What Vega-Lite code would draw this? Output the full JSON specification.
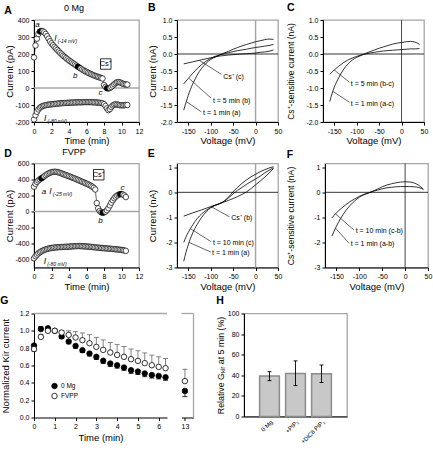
{
"$schema":"https://vega.github.io/schema/vega-lite/v6.json",
"padding":{"left":0,"top":1,"right":0,"bottom":0},
"config":{
 "font":"Liberation Sans",
 "view":{"stroke":"#a6a6a6","strokeWidth":1.3},
 "axis":{"grid":false,"domainColor":"black","domainWidth":1,"tickColor":"black","tickWidth":1,"tickSize":3,"labelFontSize":7,"labelColor":"black","titleFontSize":9.5,"titleFontWeight":"normal","titleColor":"black","labelPadding":2,"titlePadding":2,"labelFlush":false,"labelOverlap":false},
 "axisX":{"titlePadding":1.5},
 "title":{"fontSize":10.5,"fontWeight":"bold","anchor":"start","frame":"bounds","offset":3,"color":"black"},
 "text":{"fontSize":7,"color":"black"}
},
"datasets":{
 "A":[
{"t":0,"I":180,"series":"hi"},{"t":0.17,"I":250,"series":"hi"},{"t":0.33,"I":290,"series":"hi"},{"t":0.5,"I":318,"series":"hi"},{"t":0.67,"I":332,"series":"hi","sweep":"a"},{"t":0.83,"I":336,"series":"hi","sweep":"a"},{"t":1,"I":334,"series":"hi"},{"t":1.17,"I":328,"series":"hi"},{"t":1.33,"I":318,"series":"hi"},{"t":1.5,"I":305,"series":"hi"},{"t":1.67,"I":290,"series":"hi"},{"t":1.83,"I":275,"series":"hi"},{"t":2,"I":263,"series":"hi"},{"t":2.17,"I":252,"series":"hi"},{"t":2.33,"I":242,"series":"hi"},{"t":2.5,"I":233,"series":"hi"},{"t":2.67,"I":224,"series":"hi"},{"t":2.83,"I":215,"series":"hi"},{"t":3,"I":206,"series":"hi"},{"t":3.17,"I":198,"series":"hi"},{"t":3.33,"I":190,"series":"hi"},{"t":3.5,"I":183,"series":"hi"},{"t":3.67,"I":176,"series":"hi"},{"t":3.83,"I":169,"series":"hi"},{"t":4,"I":162,"series":"hi"},{"t":4.17,"I":156,"series":"hi"},{"t":4.33,"I":150,"series":"hi"},{"t":4.5,"I":144,"series":"hi"},{"t":4.67,"I":138,"series":"hi"},{"t":4.83,"I":132,"series":"hi"},{"t":5,"I":126,"series":"hi","sweep":"b"},{"t":5.17,"I":120,"series":"hi","sweep":"b"},{"t":5.33,"I":115,"series":"hi"},{"t":5.5,"I":109,"series":"hi"},{"t":5.67,"I":104,"series":"hi"},{"t":5.83,"I":99,"series":"hi"},{"t":6,"I":95,"series":"hi"},{"t":6.17,"I":90,"series":"hi"},{"t":6.33,"I":86,"series":"hi"},{"t":6.5,"I":82,"series":"hi"},{"t":6.67,"I":78,"series":"hi"},{"t":6.83,"I":74,"series":"hi"},{"t":7,"I":71,"series":"hi"},{"t":7.17,"I":68,"series":"hi"},{"t":7.33,"I":65,"series":"hi"},{"t":7.5,"I":62,"series":"hi"},{"t":7.67,"I":59,"series":"hi"},{"t":7.83,"I":56,"series":"hi"},{"t":8,"I":18,"series":"hi"},{"t":8.17,"I":6,"series":"hi"},{"t":8.33,"I":-1,"series":"hi","sweep":"c"},{"t":8.5,"I":-3,"series":"hi","sweep":"c"},{"t":8.67,"I":0,"series":"hi"},{"t":8.83,"I":6,"series":"hi"},{"t":9,"I":14,"series":"hi"},{"t":9.17,"I":22,"series":"hi"},{"t":9.33,"I":29,"series":"hi"},{"t":9.5,"I":34,"series":"hi"},{"t":9.67,"I":35,"series":"hi"},{"t":9.83,"I":33,"series":"hi"},{"t":10,"I":29,"series":"hi"},{"t":10.17,"I":25,"series":"hi"},{"t":10.33,"I":22,"series":"hi"},{"t":10.5,"I":21,"series":"hi"},{"t":10.67,"I":20,"series":"hi"},
{"t":0,"I":-185,"series":"lo"},{"t":0.17,"I":-160,"series":"lo"},{"t":0.33,"I":-140,"series":"lo"},{"t":0.5,"I":-126,"series":"lo"},{"t":0.67,"I":-116,"series":"lo"},{"t":0.83,"I":-110,"series":"lo"},{"t":1,"I":-106,"series":"lo"},{"t":1.17,"I":-103,"series":"lo"},{"t":1.33,"I":-101,"series":"lo"},{"t":1.5,"I":-99,"series":"lo"},{"t":1.67,"I":-98,"series":"lo"},{"t":1.83,"I":-97,"series":"lo"},{"t":2,"I":-96,"series":"lo"},{"t":2.17,"I":-95,"series":"lo"},{"t":2.33,"I":-94,"series":"lo"},{"t":2.5,"I":-93,"series":"lo"},{"t":2.67,"I":-92,"series":"lo"},{"t":2.83,"I":-91,"series":"lo"},{"t":3,"I":-90,"series":"lo"},{"t":3.17,"I":-89,"series":"lo"},{"t":3.33,"I":-89,"series":"lo"},{"t":3.5,"I":-88,"series":"lo"},{"t":3.67,"I":-88,"series":"lo"},{"t":3.83,"I":-87,"series":"lo"},{"t":4,"I":-87,"series":"lo"},{"t":4.17,"I":-86,"series":"lo"},{"t":4.33,"I":-86,"series":"lo"},{"t":4.5,"I":-85,"series":"lo"},{"t":4.67,"I":-85,"series":"lo"},{"t":4.83,"I":-85,"series":"lo"},{"t":5,"I":-84,"series":"lo"},{"t":5.17,"I":-84,"series":"lo"},{"t":5.33,"I":-84,"series":"lo"},{"t":5.5,"I":-84,"series":"lo"},{"t":5.67,"I":-83,"series":"lo"},{"t":5.83,"I":-83,"series":"lo"},{"t":6,"I":-83,"series":"lo"},{"t":6.17,"I":-83,"series":"lo"},{"t":6.33,"I":-83,"series":"lo"},{"t":6.5,"I":-83,"series":"lo"},{"t":6.67,"I":-84,"series":"lo"},{"t":6.83,"I":-84,"series":"lo"},{"t":7,"I":-85,"series":"lo"},{"t":7.17,"I":-85,"series":"lo"},{"t":7.33,"I":-86,"series":"lo"},{"t":7.5,"I":-87,"series":"lo"},{"t":7.67,"I":-88,"series":"lo"},{"t":7.83,"I":-90,"series":"lo"},{"t":8,"I":-95,"series":"lo"},{"t":8.17,"I":-106,"series":"lo"},{"t":8.33,"I":-120,"series":"lo"},{"t":8.5,"I":-130,"series":"lo"},{"t":8.67,"I":-124,"series":"lo"},{"t":8.83,"I":-112,"series":"lo"},{"t":9,"I":-103,"series":"lo"},{"t":9.17,"I":-98,"series":"lo"},{"t":9.33,"I":-96,"series":"lo"},{"t":9.5,"I":-97,"series":"lo"},{"t":9.67,"I":-99,"series":"lo"},{"t":9.83,"I":-101,"series":"lo"},{"t":10,"I":-102,"series":"lo"},{"t":10.17,"I":-102,"series":"lo"},{"t":10.33,"I":-101,"series":"lo"},{"t":10.5,"I":-100,"series":"lo"},{"t":10.67,"I":-100,"series":"lo"}
 ],
 "D":[
{"t":0,"I":310,"series":"hi"},{"t":0.17,"I":345,"series":"hi"},{"t":0.33,"I":370,"series":"hi"},{"t":0.5,"I":388,"series":"hi"},{"t":0.67,"I":402,"series":"hi"},{"t":0.83,"I":414,"series":"hi","sweep":"a"},{"t":1,"I":426,"series":"hi","sweep":"a"},{"t":1.17,"I":440,"series":"hi"},{"t":1.33,"I":454,"series":"hi"},{"t":1.5,"I":466,"series":"hi"},{"t":1.67,"I":477,"series":"hi"},{"t":1.83,"I":485,"series":"hi"},{"t":2,"I":491,"series":"hi"},{"t":2.17,"I":495,"series":"hi"},{"t":2.33,"I":497,"series":"hi"},{"t":2.5,"I":496,"series":"hi"},{"t":2.67,"I":493,"series":"hi"},{"t":2.83,"I":488,"series":"hi"},{"t":3,"I":482,"series":"hi"},{"t":3.17,"I":475,"series":"hi"},{"t":3.33,"I":468,"series":"hi"},{"t":3.5,"I":461,"series":"hi"},{"t":3.67,"I":454,"series":"hi"},{"t":3.83,"I":447,"series":"hi"},{"t":4,"I":440,"series":"hi"},{"t":4.17,"I":433,"series":"hi"},{"t":4.33,"I":426,"series":"hi"},{"t":4.5,"I":419,"series":"hi"},{"t":4.67,"I":412,"series":"hi"},{"t":4.83,"I":404,"series":"hi"},{"t":5,"I":396,"series":"hi"},{"t":5.17,"I":388,"series":"hi"},{"t":5.33,"I":380,"series":"hi"},{"t":5.5,"I":372,"series":"hi"},{"t":5.67,"I":364,"series":"hi"},{"t":5.83,"I":356,"series":"hi"},{"t":6,"I":348,"series":"hi"},{"t":6.17,"I":340,"series":"hi"},{"t":6.33,"I":331,"series":"hi"},{"t":6.5,"I":321,"series":"hi"},{"t":6.67,"I":310,"series":"hi"},{"t":6.83,"I":296,"series":"hi"},{"t":7,"I":275,"series":"hi"},{"t":7.17,"I":105,"series":"hi"},{"t":7.33,"I":40,"series":"hi"},{"t":7.5,"I":6,"series":"hi"},{"t":7.67,"I":-10,"series":"hi"},{"t":7.83,"I":-15,"series":"hi","sweep":"b"},{"t":8,"I":-12,"series":"hi","sweep":"b"},{"t":8.17,"I":-2,"series":"hi"},{"t":8.33,"I":16,"series":"hi"},{"t":8.5,"I":42,"series":"hi"},{"t":8.67,"I":76,"series":"hi"},{"t":8.83,"I":110,"series":"hi"},{"t":9,"I":140,"series":"hi"},{"t":9.17,"I":165,"series":"hi"},{"t":9.33,"I":185,"series":"hi"},{"t":9.5,"I":200,"series":"hi"},{"t":9.67,"I":210,"series":"hi"},{"t":9.83,"I":216,"series":"hi","sweep":"c"},{"t":10,"I":218,"series":"hi","sweep":"c"},{"t":10.17,"I":212,"series":"hi"},{"t":10.33,"I":200,"series":"hi"},{"t":10.5,"I":180,"series":"hi"},
{"t":0,"I":-585,"series":"lo"},{"t":0.17,"I":-560,"series":"lo"},{"t":0.33,"I":-540,"series":"lo"},{"t":0.5,"I":-523,"series":"lo"},{"t":0.67,"I":-509,"series":"lo"},{"t":0.83,"I":-498,"series":"lo"},{"t":1,"I":-489,"series":"lo"},{"t":1.17,"I":-481,"series":"lo"},{"t":1.33,"I":-474,"series":"lo"},{"t":1.5,"I":-468,"series":"lo"},{"t":1.67,"I":-463,"series":"lo"},{"t":1.83,"I":-459,"series":"lo"},{"t":2,"I":-456,"series":"lo"},{"t":2.17,"I":-453,"series":"lo"},{"t":2.33,"I":-451,"series":"lo"},{"t":2.5,"I":-449,"series":"lo"},{"t":2.67,"I":-447,"series":"lo"},{"t":2.83,"I":-446,"series":"lo"},{"t":3,"I":-445,"series":"lo"},{"t":3.17,"I":-444,"series":"lo"},{"t":3.33,"I":-443,"series":"lo"},{"t":3.5,"I":-442,"series":"lo"},{"t":3.67,"I":-441,"series":"lo"},{"t":3.83,"I":-440,"series":"lo"},{"t":4,"I":-439,"series":"lo"},{"t":4.17,"I":-438,"series":"lo"},{"t":4.33,"I":-436,"series":"lo"},{"t":4.5,"I":-435,"series":"lo"},{"t":4.67,"I":-434,"series":"lo"},{"t":4.83,"I":-433,"series":"lo"},{"t":5,"I":-432,"series":"lo"},{"t":5.17,"I":-432,"series":"lo"},{"t":5.33,"I":-433,"series":"lo"},{"t":5.5,"I":-434,"series":"lo"},{"t":5.67,"I":-435,"series":"lo"},{"t":5.83,"I":-436,"series":"lo"},{"t":6,"I":-437,"series":"lo"},{"t":6.17,"I":-439,"series":"lo"},{"t":6.33,"I":-440,"series":"lo"},{"t":6.5,"I":-442,"series":"lo"},{"t":6.67,"I":-444,"series":"lo"},{"t":6.83,"I":-446,"series":"lo"},{"t":7,"I":-448,"series":"lo"},{"t":7.17,"I":-450,"series":"lo"},{"t":7.33,"I":-452,"series":"lo"},{"t":7.5,"I":-454,"series":"lo"},{"t":7.67,"I":-456,"series":"lo"},{"t":7.83,"I":-458,"series":"lo"},{"t":8,"I":-459,"series":"lo"},{"t":8.17,"I":-461,"series":"lo"},{"t":8.33,"I":-462,"series":"lo"},{"t":8.5,"I":-463,"series":"lo"},{"t":8.67,"I":-465,"series":"lo"},{"t":8.83,"I":-466,"series":"lo"},{"t":9,"I":-468,"series":"lo"},{"t":9.17,"I":-470,"series":"lo"},{"t":9.33,"I":-472,"series":"lo"},{"t":9.5,"I":-474,"series":"lo"},{"t":9.67,"I":-476,"series":"lo"},{"t":9.83,"I":-478,"series":"lo"},{"t":10,"I":-480,"series":"lo"},{"t":10.17,"I":-483,"series":"lo"},{"t":10.33,"I":-487,"series":"lo"},{"t":10.5,"I":-492,"series":"lo"}
 ],
 "B":[
{"V":-160,"I":-1.65,"trace":"a"},{"V":-155,"I":-1.43,"trace":"a"},{"V":-150,"I":-1.22,"trace":"a"},{"V":-140,"I":-0.88,"trace":"a"},{"V":-130,"I":-0.62,"trace":"a"},{"V":-120,"I":-0.42,"trace":"a"},{"V":-110,"I":-0.27,"trace":"a"},{"V":-100,"I":-0.16,"trace":"a"},{"V":-90,"I":-0.09,"trace":"a"},{"V":-80,"I":-0.03,"trace":"a"},{"V":-70,"I":0.03,"trace":"a"},{"V":-60,"I":0.08,"trace":"a"},{"V":-50,"I":0.14,"trace":"a"},{"V":-40,"I":0.19,"trace":"a"},{"V":-30,"I":0.24,"trace":"a"},{"V":-20,"I":0.28,"trace":"a"},{"V":-10,"I":0.32,"trace":"a"},{"V":0,"I":0.36,"trace":"a"},{"V":10,"I":0.39,"trace":"a"},{"V":20,"I":0.42,"trace":"a"},{"V":30,"I":0.44,"trace":"a"},{"V":40,"I":0.43,"trace":"a"},
{"V":-160,"I":-0.88,"trace":"b"},{"V":-150,"I":-0.72,"trace":"b"},{"V":-140,"I":-0.57,"trace":"b"},{"V":-130,"I":-0.43,"trace":"b"},{"V":-120,"I":-0.31,"trace":"b"},{"V":-110,"I":-0.21,"trace":"b"},{"V":-100,"I":-0.13,"trace":"b"},{"V":-90,"I":-0.07,"trace":"b"},{"V":-80,"I":-0.03,"trace":"b"},{"V":-70,"I":0.01,"trace":"b"},{"V":-60,"I":0.04,"trace":"b"},{"V":-50,"I":0.07,"trace":"b"},{"V":-40,"I":0.1,"trace":"b"},{"V":-30,"I":0.12,"trace":"b"},{"V":-20,"I":0.14,"trace":"b"},{"V":-10,"I":0.17,"trace":"b"},{"V":0,"I":0.19,"trace":"b"},{"V":10,"I":0.21,"trace":"b"},{"V":20,"I":0.23,"trace":"b"},{"V":30,"I":0.25,"trace":"b"},{"V":40,"I":0.28,"trace":"b"},
{"V":-160,"I":-0.29,"trace":"c"},{"V":-140,"I":-0.23,"trace":"c"},{"V":-120,"I":-0.17,"trace":"c"},{"V":-100,"I":-0.11,"trace":"c"},{"V":-80,"I":-0.06,"trace":"c"},{"V":-60,"I":-0.03,"trace":"c"},{"V":-40,"I":-0.01,"trace":"c"},{"V":-20,"I":0.01,"trace":"c"},{"V":0,"I":0.03,"trace":"c"},{"V":10,"I":0.05,"trace":"c"},{"V":20,"I":0.06,"trace":"c"},{"V":30,"I":0.08,"trace":"c"},{"V":40,"I":0.12,"trace":"c"}
 ],
 "C":[
{"V":-160,"I":-1.4,"trace":"a-c"},{"V":-155,"I":-1.17,"trace":"a-c"},{"V":-150,"I":-0.98,"trace":"a-c"},{"V":-140,"I":-0.7,"trace":"a-c"},{"V":-130,"I":-0.47,"trace":"a-c"},{"V":-120,"I":-0.3,"trace":"a-c"},{"V":-110,"I":-0.18,"trace":"a-c"},{"V":-100,"I":-0.1,"trace":"a-c"},{"V":-90,"I":-0.04,"trace":"a-c"},{"V":-80,"I":0.02,"trace":"a-c"},{"V":-70,"I":0.07,"trace":"a-c"},{"V":-60,"I":0.12,"trace":"a-c"},{"V":-50,"I":0.17,"trace":"a-c"},{"V":-40,"I":0.21,"trace":"a-c"},{"V":-30,"I":0.25,"trace":"a-c"},{"V":-20,"I":0.29,"trace":"a-c"},{"V":-10,"I":0.32,"trace":"a-c"},{"V":0,"I":0.34,"trace":"a-c"},{"V":10,"I":0.36,"trace":"a-c"},{"V":20,"I":0.37,"trace":"a-c"},{"V":30,"I":0.35,"trace":"a-c"},{"V":40,"I":0.28,"trace":"a-c"},
{"V":-160,"I":-0.6,"trace":"b-c"},{"V":-150,"I":-0.47,"trace":"b-c"},{"V":-140,"I":-0.36,"trace":"b-c"},{"V":-130,"I":-0.26,"trace":"b-c"},{"V":-120,"I":-0.18,"trace":"b-c"},{"V":-110,"I":-0.12,"trace":"b-c"},{"V":-100,"I":-0.07,"trace":"b-c"},{"V":-90,"I":-0.03,"trace":"b-c"},{"V":-80,"I":0,"trace":"b-c"},{"V":-70,"I":0.03,"trace":"b-c"},{"V":-60,"I":0.05,"trace":"b-c"},{"V":-50,"I":0.07,"trace":"b-c"},{"V":-40,"I":0.09,"trace":"b-c"},{"V":-30,"I":0.1,"trace":"b-c"},{"V":-20,"I":0.11,"trace":"b-c"},{"V":-10,"I":0.12,"trace":"b-c"},{"V":0,"I":0.13,"trace":"b-c"},{"V":10,"I":0.14,"trace":"b-c"},{"V":20,"I":0.15,"trace":"b-c"},{"V":30,"I":0.15,"trace":"b-c"},{"V":40,"I":0.16,"trace":"b-c"}
 ],
 "E":[
{"V":-160,"I":-2.75,"trace":"a"},{"V":-155,"I":-2.4,"trace":"a"},{"V":-150,"I":-2.1,"trace":"a"},{"V":-140,"I":-1.62,"trace":"a"},{"V":-130,"I":-1.28,"trace":"a"},{"V":-120,"I":-1.0,"trace":"a"},{"V":-110,"I":-0.78,"trace":"a"},{"V":-100,"I":-0.62,"trace":"a"},{"V":-90,"I":-0.52,"trace":"a"},{"V":-80,"I":-0.45,"trace":"a"},{"V":-70,"I":-0.35,"trace":"a"},{"V":-60,"I":-0.18,"trace":"a"},{"V":-50,"I":0.02,"trace":"a"},{"V":-40,"I":0.2,"trace":"a"},{"V":-30,"I":0.36,"trace":"a"},{"V":-20,"I":0.5,"trace":"a"},{"V":-10,"I":0.62,"trace":"a"},{"V":0,"I":0.72,"trace":"a"},{"V":10,"I":0.82,"trace":"a"},{"V":20,"I":0.9,"trace":"a"},{"V":30,"I":0.97,"trace":"a"},{"V":40,"I":1.02,"trace":"a"},
{"V":-160,"I":-2.0,"trace":"c"},{"V":-155,"I":-1.78,"trace":"c"},{"V":-150,"I":-1.6,"trace":"c"},{"V":-140,"I":-1.3,"trace":"c"},{"V":-130,"I":-1.05,"trace":"c"},{"V":-120,"I":-0.86,"trace":"c"},{"V":-110,"I":-0.72,"trace":"c"},{"V":-100,"I":-0.6,"trace":"c"},{"V":-90,"I":-0.52,"trace":"c"},{"V":-80,"I":-0.45,"trace":"c"},{"V":-70,"I":-0.36,"trace":"c"},{"V":-60,"I":-0.22,"trace":"c"},{"V":-50,"I":-0.06,"trace":"c"},{"V":-40,"I":0.08,"trace":"c"},{"V":-30,"I":0.2,"trace":"c"},{"V":-20,"I":0.32,"trace":"c"},{"V":-10,"I":0.43,"trace":"c"},{"V":0,"I":0.53,"trace":"c"},{"V":10,"I":0.64,"trace":"c"},{"V":20,"I":0.77,"trace":"c"},{"V":30,"I":0.88,"trace":"c"},{"V":40,"I":0.98,"trace":"c"},
{"V":-160,"I":-0.95,"trace":"b"},{"V":-140,"I":-0.82,"trace":"b"},{"V":-120,"I":-0.7,"trace":"b"},{"V":-100,"I":-0.57,"trace":"b"},{"V":-80,"I":-0.45,"trace":"b"},{"V":-60,"I":-0.32,"trace":"b"},{"V":-40,"I":-0.17,"trace":"b"},{"V":-20,"I":0.02,"trace":"b"},{"V":-10,"I":0.15,"trace":"b"},{"V":0,"I":0.3,"trace":"b"},{"V":10,"I":0.44,"trace":"b"},{"V":20,"I":0.6,"trace":"b"},{"V":30,"I":0.77,"trace":"b"},{"V":40,"I":0.95,"trace":"b"}
 ],
 "F":[
{"V":-160,"I":-1.75,"trace":"a-b"},{"V":-150,"I":-1.35,"trace":"a-b"},{"V":-140,"I":-1.02,"trace":"a-b"},{"V":-130,"I":-0.74,"trace":"a-b"},{"V":-120,"I":-0.52,"trace":"a-b"},{"V":-110,"I":-0.34,"trace":"a-b"},{"V":-100,"I":-0.2,"trace":"a-b"},{"V":-90,"I":-0.1,"trace":"a-b"},{"V":-80,"I":-0.03,"trace":"a-b"},{"V":-70,"I":0.05,"trace":"a-b"},{"V":-60,"I":0.13,"trace":"a-b"},{"V":-50,"I":0.22,"trace":"a-b"},{"V":-40,"I":0.29,"trace":"a-b"},{"V":-30,"I":0.34,"trace":"a-b"},{"V":-20,"I":0.38,"trace":"a-b"},{"V":-10,"I":0.41,"trace":"a-b"},{"V":0,"I":0.42,"trace":"a-b"},{"V":10,"I":0.41,"trace":"a-b"},{"V":20,"I":0.37,"trace":"a-b"},{"V":30,"I":0.28,"trace":"a-b"},{"V":40,"I":0.12,"trace":"a-b"},
{"V":-160,"I":-1.02,"trace":"c-b"},{"V":-150,"I":-0.82,"trace":"c-b"},{"V":-140,"I":-0.65,"trace":"c-b"},{"V":-130,"I":-0.5,"trace":"c-b"},{"V":-120,"I":-0.37,"trace":"c-b"},{"V":-110,"I":-0.26,"trace":"c-b"},{"V":-100,"I":-0.16,"trace":"c-b"},{"V":-90,"I":-0.08,"trace":"c-b"},{"V":-80,"I":-0.02,"trace":"c-b"},{"V":-70,"I":0.04,"trace":"c-b"},{"V":-60,"I":0.09,"trace":"c-b"},{"V":-50,"I":0.14,"trace":"c-b"},{"V":-40,"I":0.18,"trace":"c-b"},{"V":-30,"I":0.2,"trace":"c-b"},{"V":-20,"I":0.22,"trace":"c-b"},{"V":-10,"I":0.23,"trace":"c-b"},{"V":0,"I":0.23,"trace":"c-b"},{"V":10,"I":0.23,"trace":"c-b"},{"V":20,"I":0.22,"trace":"c-b"},{"V":30,"I":0.19,"trace":"c-b"},{"V":40,"I":0.12,"trace":"c-b"}
 ],
 "G":[
{"t":0,"group":"0 Mg","norm":0.83,"errEnd":0.8},{"t":0.33,"group":"0 Mg","norm":1.02,"errEnd":1.05},{"t":0.67,"group":"0 Mg","norm":1.03,"errEnd":1.0},{"t":1,"group":"0 Mg","norm":1.0,"errEnd":1.0},{"t":1.33,"group":"0 Mg","norm":0.935,"errEnd":0.91},{"t":1.67,"group":"0 Mg","norm":0.877,"errEnd":0.85},{"t":2,"group":"0 Mg","norm":0.826,"errEnd":0.8},{"t":2.33,"group":"0 Mg","norm":0.776,"errEnd":0.75},{"t":2.67,"group":"0 Mg","norm":0.738,"errEnd":0.71},{"t":3,"group":"0 Mg","norm":0.7,"errEnd":0.67},{"t":3.33,"group":"0 Mg","norm":0.655,"errEnd":0.625},{"t":3.67,"group":"0 Mg","norm":0.623,"errEnd":0.59},{"t":4,"group":"0 Mg","norm":0.603,"errEnd":0.57},{"t":4.33,"group":"0 Mg","norm":0.577,"errEnd":0.545},{"t":4.67,"group":"0 Mg","norm":0.546,"errEnd":0.51},{"t":5,"group":"0 Mg","norm":0.53,"errEnd":0.495},{"t":5.33,"group":"0 Mg","norm":0.508,"errEnd":0.47},{"t":5.67,"group":"0 Mg","norm":0.49,"errEnd":0.455},{"t":6,"group":"0 Mg","norm":0.48,"errEnd":0.445},{"t":6.33,"group":"0 Mg","norm":0.465,"errEnd":0.43},{"t":13,"group":"0 Mg","norm":0.307,"errEnd":0.24},
{"t":0,"group":"FVPP","norm":0.79,"errEnd":0.76},{"t":0.33,"group":"FVPP","norm":0.93,"errEnd":0.96},{"t":0.67,"group":"FVPP","norm":1.0,"errEnd":1.02},{"t":1,"group":"FVPP","norm":1.0,"errEnd":1.0},{"t":1.33,"group":"FVPP","norm":0.98,"errEnd":1.0},{"t":1.67,"group":"FVPP","norm":0.953,"errEnd":1.0},{"t":2,"group":"FVPP","norm":0.923,"errEnd":0.99},{"t":2.33,"group":"FVPP","norm":0.892,"errEnd":0.975},{"t":2.67,"group":"FVPP","norm":0.857,"errEnd":0.955},{"t":3,"group":"FVPP","norm":0.815,"errEnd":0.925},{"t":3.33,"group":"FVPP","norm":0.78,"errEnd":0.895},{"t":3.67,"group":"FVPP","norm":0.75,"errEnd":0.865},{"t":4,"group":"FVPP","norm":0.722,"errEnd":0.84},{"t":4.33,"group":"FVPP","norm":0.7,"errEnd":0.82},{"t":4.67,"group":"FVPP","norm":0.673,"errEnd":0.79},{"t":5,"group":"FVPP","norm":0.653,"errEnd":0.77},{"t":5.33,"group":"FVPP","norm":0.627,"errEnd":0.745},{"t":5.67,"group":"FVPP","norm":0.603,"errEnd":0.72},{"t":6,"group":"FVPP","norm":0.584,"errEnd":0.7},{"t":6.33,"group":"FVPP","norm":0.569,"errEnd":0.68},{"t":13,"group":"FVPP","norm":0.42,"errEnd":0.557}
 ],
 "H":[
{"cond":"0 Mg","rel":39.4,"lo":34.8,"hi":43.5},{"cond":"+PIP₂","rel":41.8,"lo":30,"hi":54},{"cond":"+DiC8 PIP₂","rel":41.5,"lo":33,"hi":50}
 ]
},
"columns":1,
"align":"none",
"spacing":2.5,
"concat":[
 {"spacing":0.5,"vconcat":[
 {"spacing":3,"hconcat":[
  {"title":{"text":"A","offset":-13},"hconcat":[
   {"width":105,"height":102,
    "title":{"text":"0 Mg","anchor":"middle","fontWeight":"normal","fontSize":9},
    "encoding":{
     "x":{"field":"t","type":"quantitative","scale":{"domain":[0,12],"nice":false},"axis":{"values":[0,2,4,6,8,10,12],"title":"Time (min)"}},
     "y":{"field":"I","type":"quantitative","scale":{"domain":[-200,400],"nice":false},"axis":{"values":[-200,-100,0,100,200,300,400],"title":"Current (pA)","titlePadding":0,"labelExpr":"replace(datum.label,'−','-')"}}},
    "layer":[
     {"data":{"values":[{"t":0,"t2":12,"I":0}]},"mark":{"type":"rule","color":"#a6a6a6","strokeWidth":1.5},"encoding":{"x2":{"field":"t2"}}},
     {"data":{"name":"A"},"mark":{"type":"line","color":"black","strokeWidth":0.6},"encoding":{"detail":{"field":"series","type":"nominal"}}},
     {"data":{"name":"A"},"mark":{"type":"point","filled":true,"size":30,"stroke":"black","strokeWidth":0.7,"opacity":1},"encoding":{"fill":{"condition":{"test":"datum.sweep","value":"black"},"value":"white"}}},
     {"data":{"values":[{"t":0.4,"I":368,"label":"a"},{"t":4.7,"I":72,"label":"b"},{"t":7.6,"I":-30,"label":"c"}]},"mark":{"type":"text","fontStyle":"italic","fontSize":8},"encoding":{"text":{"field":"label"}}},
     {"data":{"values":[{"t":2.3,"I":295,"sub":"(-14 mV)"},{"t":1.15,"I":-178,"sub":"(-80 mV)"}]},"layer":[
      {"mark":{"type":"text","text":"I","fontStyle":"italic","fontSize":8.5,"align":"left"}},
      {"mark":{"type":"text","fontStyle":"italic","fontSize":5,"align":"left","dx":3.5,"dy":3},"encoding":{"text":{"field":"sub"}}}]},
     {"data":{"values":[{"t":8.2,"I":141,"label":"Cs⁺"}]},"layer":[
      {"mark":{"type":"square","size":110,"filled":true,"fill":"white","stroke":"black","strokeWidth":0.8,"opacity":1}},
      {"mark":{"type":"text","fontSize":7.5},"encoding":{"text":{"field":"label"}}}]}
    ]}
  ]},
  {"width":101,"height":102,"title":{"text":"B"},
   "encoding":{
    "x":{"field":"V","type":"quantitative","scale":{"domain":[-175,50],"nice":false},"axis":{"values":[-150,-100,-50,0,50],"title":"Voltage (mV)","labelExpr":"replace(datum.label,'−','-')"}},
    "y":{"field":"I","type":"quantitative","scale":{"domain":[-2,1],"nice":false},"axis":{"values":[-2,-1.5,-1,-0.5,0,0.5,1],"format":".1f","title":"Current (nA)","labelExpr":"replace(datum.label,'−','-')"}}},
   "layer":[
    {"data":{"values":[{"V":0,"I":-2,"I2":1}]},"mark":{"type":"rule","color":"#a6a6a6","strokeWidth":1.5},"encoding":{"y2":{"field":"I2"}}},
    {"data":{"values":[{"V":-175,"V2":50,"I":0}]},"mark":{"type":"rule","color":"black","strokeWidth":0.8},"encoding":{"x2":{"field":"V2"}}},
    {"data":{"name":"B"},"mark":{"type":"line","color":"black","strokeWidth":0.8,"interpolate":"monotone"},"encoding":{"detail":{"field":"trace","type":"nominal"}}},
    {"data":{"values":[{"V":-125,"I":-0.19,"V2":-76,"I2":-0.6},{"V":-148,"I":-0.72,"V2":-99,"I2":-1.3},{"V":-154,"I":-1.4,"V2":-121,"I2":-1.7}]},"mark":{"type":"rule","color":"black","strokeWidth":0.6},"encoding":{"x2":{"field":"V2"},"y2":{"field":"I2"}}},
    {"data":{"values":[{"V":-72,"I":-0.67,"label":"Cs⁺ (c)"},{"V":-95,"I":-1.38,"label":"t = 5 min (b)"},{"V":-117,"I":-1.74,"label":"t = 1 min (a)"}]},"mark":{"type":"text","align":"left","fontSize":7},"encoding":{"text":{"field":"label"}}}
   ]},
  {"width":101,"height":102,"title":{"text":"C"},
   "encoding":{
    "x":{"field":"V","type":"quantitative","scale":{"domain":[-175,50],"nice":false},"axis":{"values":[-150,-100,-50,0,50],"title":"Voltage (mV)","labelExpr":"replace(datum.label,'−','-')"}},
    "y":{"field":"I","type":"quantitative","scale":{"domain":[-2,1],"nice":false},"axis":{"values":[-2,-1.5,-1,-0.5,0,0.5,1],"format":".1f","title":"Cs⁺-sensitive current (nA)","titleFontSize":8.5,"titlePadding":10,"labelExpr":"replace(datum.label,'−','-')"}}},
   "layer":[
    {"data":{"values":[{"V":0,"I":-2,"I2":1}]},"mark":{"type":"rule","color":"#333333","strokeWidth":0.9},"encoding":{"y2":{"field":"I2"}}},
    {"data":{"values":[{"V":-175,"V2":50,"I":0}]},"mark":{"type":"rule","color":"black","strokeWidth":0.8},"encoding":{"x2":{"field":"V2"}}},
    {"data":{"name":"C"},"mark":{"type":"line","color":"black","strokeWidth":0.8,"interpolate":"monotone"},"encoding":{"detail":{"field":"trace","type":"nominal"}}},
    {"data":{"values":[{"V":-150,"I":-0.47,"V2":-116,"I2":-0.83},{"V":-153,"I":-1.1,"V2":-116,"I2":-1.42}]},"mark":{"type":"rule","color":"black","strokeWidth":0.6},"encoding":{"x2":{"field":"V2"},"y2":{"field":"I2"}}},
    {"data":{"values":[{"V":-113,"I":-0.88,"label":"t = 5 min (b-c)"},{"V":-113,"I":-1.46,"label":"t = 1 min (a-c)"}]},"mark":{"type":"text","align":"left","fontSize":7},"encoding":{"text":{"field":"label"}}}
   ]}
 ]},
 {"spacing":3,"hconcat":[
  {"title":{"text":"D","offset":-13},"hconcat":[
   {"width":105,"height":104,
    "title":{"text":"FVPP","anchor":"middle","fontWeight":"normal","fontSize":9},
    "encoding":{
     "x":{"field":"t","type":"quantitative","scale":{"domain":[0,12],"nice":false},"axis":{"values":[0,2,4,6,8,10,12],"title":"Time (min)"}},
     "y":{"field":"I","type":"quantitative","scale":{"domain":[-700,600],"nice":false},"axis":{"values":[-600,-400,-200,0,200,400,600],"title":"Current (pA)","titlePadding":0,"labelExpr":"replace(datum.label,'−','-')"}}},
    "layer":[
     {"data":{"values":[{"t":0,"t2":12,"I":0}]},"mark":{"type":"rule","color":"#a6a6a6","strokeWidth":1.5},"encoding":{"x2":{"field":"t2"}}},
     {"data":{"name":"D"},"mark":{"type":"line","color":"black","strokeWidth":0.6},"encoding":{"detail":{"field":"series","type":"nominal"}}},
     {"data":{"name":"D"},"mark":{"type":"point","filled":true,"size":30,"stroke":"black","strokeWidth":0.7,"opacity":1},"encoding":{"fill":{"condition":{"test":"datum.sweep","value":"black"},"value":"white"}}},
     {"data":{"values":[{"t":1.15,"I":250,"label":"a"},{"t":7.6,"I":-115,"label":"b"},{"t":10.1,"I":292,"label":"c"}]},"mark":{"type":"text","fontStyle":"italic","fontSize":8},"encoding":{"text":{"field":"label"}}},
     {"data":{"values":[{"t":1.75,"I":260,"sub":"(-25 mV)"},{"t":1.1,"I":-615,"sub":"(-80 mV)"}]},"layer":[
      {"mark":{"type":"text","text":"I","fontStyle":"italic","fontSize":8.5,"align":"left"}},
      {"mark":{"type":"text","fontStyle":"italic","fontSize":5,"align":"left","dx":3.5,"dy":3},"encoding":{"text":{"field":"sub"}}}]},
     {"data":{"values":[{"t":7.4,"I":460,"label":"Cs⁺"}]},"layer":[
      {"mark":{"type":"square","size":110,"filled":true,"fill":"white","stroke":"black","strokeWidth":0.8,"opacity":1}},
      {"mark":{"type":"text","fontSize":7.5},"encoding":{"text":{"field":"label"}}}]}
    ]}
  ]},
  {"width":101,"height":104,"title":{"text":"E"},
   "encoding":{
    "x":{"field":"V","type":"quantitative","scale":{"domain":[-175,50],"nice":false},"axis":{"values":[-150,-100,-50,0,50],"title":"Voltage (mV)","labelExpr":"replace(datum.label,'−','-')"}},
    "y":{"field":"I","type":"quantitative","scale":{"domain":[-3,1.15],"nice":false},"axis":{"values":[-3,-2,-1,0,1],"title":"Current (nA)","titlePadding":8,"labelExpr":"replace(datum.label,'−','-')"}}},
   "layer":[
    {"data":{"values":[{"V":0,"I":-3,"I2":1.15}]},"mark":{"type":"rule","color":"#a6a6a6","strokeWidth":1.5},"encoding":{"y2":{"field":"I2"}}},
    {"data":{"values":[{"V":-175,"V2":50,"I":0}]},"mark":{"type":"rule","color":"black","strokeWidth":0.8},"encoding":{"x2":{"field":"V2"}}},
    {"data":{"name":"E"},"mark":{"type":"line","color":"black","strokeWidth":0.8,"interpolate":"monotone"},"encoding":{"detail":{"field":"trace","type":"nominal"}}},
    {"data":{"values":[{"V":-98,"I":-0.58,"V2":-58,"I2":-0.98},{"V":-145,"I":-1.45,"V2":-99,"I2":-1.97},{"V":-148,"I":-2.0,"V2":-100,"I2":-2.38}]},"mark":{"type":"rule","color":"black","strokeWidth":0.6},"encoding":{"x2":{"field":"V2"},"y2":{"field":"I2"}}},
    {"data":{"values":[{"V":-54,"I":-1.01,"label":"Cs⁺ (b)"},{"V":-95,"I":-2.04,"label":"t = 10 min (c)"},{"V":-97,"I":-2.44,"label":"t = 1 min (a)"}]},"mark":{"type":"text","align":"left","fontSize":7},"encoding":{"text":{"field":"label"}}}
   ]},
  {"width":103,"height":104,"title":{"text":"F"},
   "encoding":{
    "x":{"field":"V","type":"quantitative","scale":{"domain":[-175,50],"nice":false},"axis":{"values":[-150,-100,-50,0,50],"title":"Voltage (mV)","labelExpr":"replace(datum.label,'−','-')"}},
    "y":{"field":"I","type":"quantitative","scale":{"domain":[-3,1.15],"nice":false},"axis":{"values":[-3,-2,-1,0,1],"title":"Cs⁺-sensitive current (nA)","titleFontSize":8.7,"titlePadding":18,"labelExpr":"replace(datum.label,'−','-')"}}},
   "layer":[
    {"data":{"values":[{"V":0,"I":-3,"I2":1.15}]},"mark":{"type":"rule","color":"#333333","strokeWidth":0.9},"encoding":{"y2":{"field":"I2"}}},
    {"data":{"values":[{"V":-175,"V2":50,"I":0}]},"mark":{"type":"rule","color":"black","strokeWidth":0.8},"encoding":{"x2":{"field":"V2"}}},
    {"data":{"name":"F"},"mark":{"type":"line","color":"black","strokeWidth":0.8,"interpolate":"monotone"},"encoding":{"detail":{"field":"trace","type":"nominal"}}},
    {"data":{"values":[{"V":-152,"I":-0.86,"V2":-112,"I2":-1.5},{"V":-152,"I":-1.43,"V2":-122,"I2":-2.04}]},"mark":{"type":"rule","color":"black","strokeWidth":0.6},"encoding":{"x2":{"field":"V2"},"y2":{"field":"I2"}}},
    {"data":{"values":[{"V":-108,"I":-1.54,"label":"t = 10 min (c-b)"},{"V":-119,"I":-2.08,"label":"t = 1 min (a-b)"}]},"mark":{"type":"text","align":"left","fontSize":7},"encoding":{"text":{"field":"label"}}}
   ]}
 ]}
 ]},
 {"spacing":20,"hconcat":[
  {"title":{"text":"G"},"spacing":10.5,
   "resolve":{"scale":{"fill":"independent"},"legend":{"fill":"independent"}},
   "hconcat":[
   {"width":133,"height":104,"view":{"stroke":null},
    "data":{"name":"G"},"transform":[{"filter":"datum.t < 7"}],
    "encoding":{
     "x":{"field":"t","type":"quantitative","scale":{"domain":[0,6.4],"nice":false},"axis":{"values":[0,1,2,3,4,5,6],"title":"Time (min)","titlePadding":3}},
     "y":{"field":"norm","type":"quantitative","scale":{"domain":[0,1.2],"nice":false},"axis":{"values":[0,0.2,0.4,0.6,0.8,1,1.2],"format":".1f","title":"Normalized Kir current","titlePadding":9}}},
    "layer":[
     {"data":{"values":[{"t":0,"t2":6.4,"norm":1.2}]},"mark":{"type":"rule","color":"#a6a6a6","strokeWidth":1.3},"encoding":{"x2":{"field":"t2"}}},
     {"transform":[{"filter":"datum.group == 'FVPP'"}],"mark":{"type":"rule","strokeWidth":0.8,"color":"#666666"},"encoding":{"y2":{"field":"errEnd"}}},
     {"transform":[{"filter":"datum.group == 'FVPP'"}],"mark":{"type":"tick","orient":"horizontal","size":5,"thickness":0.8,"opacity":1,"color":"#666666"},"encoding":{"y":{"field":"errEnd","type":"quantitative","scale":{"domain":[0,1.2],"nice":false},"axis":{"values":[0,0.2,0.4,0.6,0.8,1,1.2],"format":".1f","title":"Normalized Kir current","titlePadding":9}}}},
     {"transform":[{"filter":"datum.group == '0 Mg'"}],"mark":{"type":"rule","strokeWidth":0.8,"color":"black"},"encoding":{"y2":{"field":"errEnd"}}},
     {"transform":[{"filter":"datum.group == '0 Mg'"}],"mark":{"type":"tick","orient":"horizontal","size":5,"thickness":0.8,"opacity":1,"color":"black"},"encoding":{"y":{"field":"errEnd","type":"quantitative","scale":{"domain":[0,1.2],"nice":false},"axis":{"values":[0,0.2,0.4,0.6,0.8,1,1.2],"format":".1f","title":"Normalized Kir current","titlePadding":9}}}},
     {"mark":{"type":"point","filled":true,"size":30,"stroke":"black","strokeWidth":0.8,"opacity":1},"encoding":{"fill":{"field":"group","type":"nominal","scale":{"domain":["0 Mg","FVPP"],"range":["black","white"]},"legend":{"orient":"bottom-left","title":null,"labelFontSize":6.5,"symbolSize":30,"symbolStrokeColor":"black","symbolStrokeWidth":0.8,"rowPadding":1,"labelOffset":3,"offset":17}}}}
    ]},
   {"width":12,"height":104,"view":{"stroke":null},
    "data":{"name":"G"},"transform":[{"filter":"datum.t > 7"}],
    "encoding":{
     "x":{"field":"t","type":"quantitative","scale":{"domain":[12.84,13.4],"nice":false},"axis":{"values":[13],"format":"d","title":null}},
     "y":{"field":"norm","type":"quantitative","scale":{"domain":[0,1.2],"nice":false},"axis":null}},
    "layer":[
     {"data":{"values":[{"t":12.84,"t2":13.4,"norm":1.2}]},"mark":{"type":"rule","color":"#a6a6a6","strokeWidth":1.3},"encoding":{"x2":{"field":"t2"}}},
     {"data":{"values":[{"t":13.4,"norm":0,"n2":1.2}]},"mark":{"type":"rule","color":"#a6a6a6","strokeWidth":1.3},"encoding":{"y2":{"field":"n2"}}},
     {"transform":[{"filter":"datum.group == 'FVPP'"}],"mark":{"type":"rule","strokeWidth":0.8,"color":"#666666"},"encoding":{"y2":{"field":"errEnd"}}},
     {"transform":[{"filter":"datum.group == 'FVPP'"}],"mark":{"type":"tick","orient":"horizontal","size":5,"thickness":0.8,"opacity":1,"color":"#666666"},"encoding":{"y":{"field":"errEnd","type":"quantitative","scale":{"domain":[0,1.2],"nice":false},"axis":null}}},
     {"transform":[{"filter":"datum.group == '0 Mg'"}],"mark":{"type":"rule","strokeWidth":0.8,"color":"black"},"encoding":{"y2":{"field":"errEnd"}}},
     {"transform":[{"filter":"datum.group == '0 Mg'"}],"mark":{"type":"tick","orient":"horizontal","size":5,"thickness":0.8,"opacity":1,"color":"black"},"encoding":{"y":{"field":"errEnd","type":"quantitative","scale":{"domain":[0,1.2],"nice":false},"axis":null}}},
     {"mark":{"type":"point","filled":true,"size":30,"stroke":"black","strokeWidth":0.8,"opacity":1},"encoding":{"fill":{"field":"group","type":"nominal","scale":{"domain":["0 Mg","FVPP"],"range":["black","white"]},"legend":null}}}
    ]}
  ]},
  {"width":103,"height":103,"title":{"text":"H"},
   "data":{"name":"H"},
   "encoding":{"x":{"field":"cond","type":"nominal","sort":null,"scale":{"paddingInner":0.24,"paddingOuter":0.6},"axis":{"labelAngle":-45,"labelFontSize":6,"title":null,"ticks":false}}},
   "layer":[
    {"mark":{"type":"bar","fill":"#c8c8c8","stroke":"#8c8c8c","strokeWidth":1.5},"encoding":{"y":{"field":"rel","type":"quantitative","scale":{"domain":[0,100],"nice":false},"axis":{"values":[0,20,40,60,80,100],"title":"Relative Gₖᵢᵣ at 5 min (%)","titleFontSize":8.8}}}},
    {"mark":{"type":"rule","color":"black","strokeWidth":0.9},"encoding":{"y":{"field":"lo","type":"quantitative","scale":{"domain":[0,100],"nice":false},"axis":{"values":[0,20,40,60,80,100],"title":"Relative Gₖᵢᵣ at 5 min (%)","titleFontSize":8.8}},"y2":{"field":"hi"}}},
    {"mark":{"type":"tick","orient":"horizontal","size":4,"thickness":0.9,"color":"black","opacity":1},"encoding":{"y":{"field":"lo","type":"quantitative","scale":{"domain":[0,100],"nice":false},"axis":{"values":[0,20,40,60,80,100],"title":"Relative Gₖᵢᵣ at 5 min (%)","titleFontSize":8.8}}}},
    {"mark":{"type":"tick","orient":"horizontal","size":4,"thickness":0.9,"color":"black","opacity":1},"encoding":{"y":{"field":"hi","type":"quantitative","scale":{"domain":[0,100],"nice":false},"axis":{"values":[0,20,40,60,80,100],"title":"Relative Gₖᵢᵣ at 5 min (%)","titleFontSize":8.8}}}}
   ]}
 ]}
]
}
